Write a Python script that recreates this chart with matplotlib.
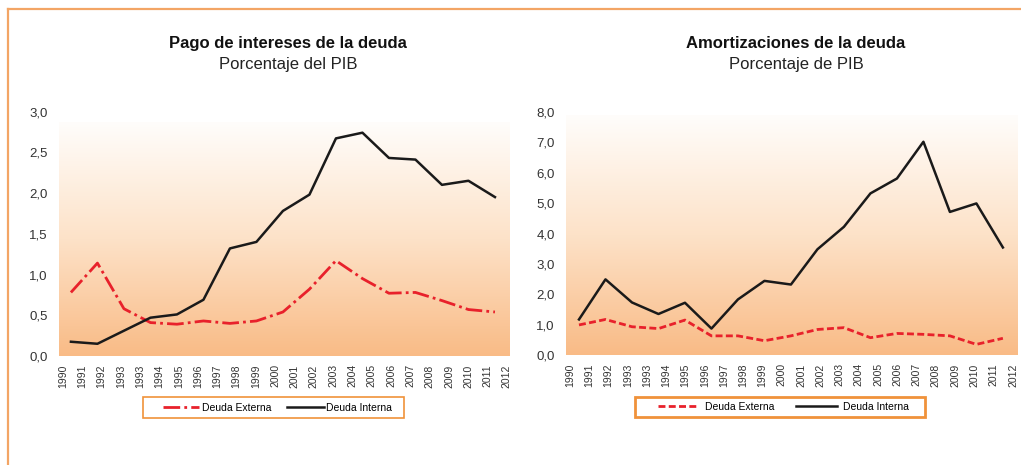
import numpy as np
import matplotlib
matplotlib.use("Agg")
import matplotlib.pyplot as plt
from matplotlib import font_manager
from matplotlib.colors import LinearSegmentedColormap
from matplotlib.lines import Line2D
from matplotlib.patches import Rectangle

# x-axis labels as printed on the original (note the repeated 1993)
year_labels = ["1990", "1991", "1992", "1993", "1993", "1994", "1995", "1996",
               "1997", "1998", "1999", "2000", "2001", "2002", "2003", "2004",
               "2005", "2006", "2007", "2008", "2009", "2010", "2011", "2012"]

# Pago de intereses de la deuda (% PIB)
int_externa = [0.78, 1.14, 0.58, 0.41, 0.39, 0.43, 0.40, 0.43, 0.54, 0.82,
               1.17, 0.95, 0.77, 0.78, 0.68, 0.57, 0.54]
int_interna = [0.175, 0.15, 0.31, 0.47, 0.51, 0.69, 1.32, 1.40, 1.78, 1.98,
               2.67, 2.74, 2.43, 2.41, 2.10, 2.15, 1.95]

# Amortizaciones de la deuda (% PIB)
amo_externa = [0.99, 1.17, 0.93, 0.87, 1.15, 0.63, 0.63, 0.47, 0.63, 0.84,
               0.90, 0.57, 0.71, 0.68, 0.63, 0.35, 0.55]
amo_interna = [1.17, 2.49, 1.73, 1.35, 1.72, 0.87, 1.83, 2.44, 2.32, 3.48,
               4.22, 5.32, 5.81, 7.02, 4.71, 4.99, 3.54]

available = {f.name for f in font_manager.fontManager.ttflist}
narrow = "Liberation Sans Narrow" if "Liberation Sans Narrow" in available else "Liberation Sans"
plt.rcParams["font.family"] = ["Liberation Sans", "DejaVu Sans"]

RED = "#e8212b"
BLACK = "#1a1a1a"
ORANGE = "#f0923a"
grad = LinearSegmentedColormap.from_list("peach", ["#f9bb86", "#fde2c8", "#fffdfb"])

W, H = 1021, 465
fig = plt.figure(figsize=(W / 100, H / 100), dpi=100)

# page frame
fig.add_artist(Line2D([8 / W, 1], [1 - 9 / H] * 2, color="#f3a565", lw=1.6))
fig.add_artist(Line2D([8 / W] * 2, [0, 1 - 9 / H], color="#f3a565", lw=1.6))


def panel(rect, ext, inte, ymax, ystep, grad_top, xlim, lab_span,
          title, subtitle, ext_style, leg_box, leg_center, leg_opts, leg_lw):
    ax = fig.add_axes(rect)
    n = len(ext)
    x = np.arange(n)
    ax.set_xlim(*xlim)
    ax.set_ylim(0, ymax)
    g = np.linspace(0, 1, 256).reshape(-1, 1)
    ax.imshow(g, cmap=grad, origin="lower", aspect="auto",
              extent=[xlim[0], xlim[1], 0, grad_top], zorder=0)
    ax.plot(x, ext, color=RED, lw=2.0, dashes=ext_style, zorder=3,
            label="Deuda Externa")
    ax.plot(x, inte, color=BLACK, lw=1.8, zorder=3, label="Deuda Interna")
    for s in ax.spines.values():
        s.set_visible(False)
    yt = np.arange(0, ymax + 0.001, ystep)
    ax.set_yticks(yt)
    ax.set_yticklabels([f"{v:.1f}".replace(".", ",") for v in yt],
                       fontsize=9.5, color="#333333")
    ax.set_xticks(np.linspace(lab_span[0], lab_span[1], len(year_labels)))
    ax.set_xticklabels(year_labels, rotation=90, fontsize=7.5, color="#333333")
    ax.tick_params(length=0, pad=6)
    ax.tick_params(axis="y", pad=8)

    cx = rect[0] + rect[2] / 2 + 0.004
    fig.text(cx, 1 - 43 / H, title, ha="center", va="center",
             fontsize=12, fontweight="bold", family=narrow, color="#111111")
    fig.text(cx, 1 - 65 / H, subtitle, ha="center", va="center",
             fontsize=12, family=narrow, color="#222222")

    # legend box drawn separately so the padding can be uneven like the original
    x0, x1, ytop, ybot = leg_box
    fig.add_artist(Rectangle((x0 / W, 1 - ybot / H), (x1 - x0) / W, (ybot - ytop) / H,
                             transform=fig.transFigure, facecolor="white",
                             edgecolor=ORANGE, lw=leg_lw))
    fig.legend(handles=ax.get_lines(), loc="center",
               bbox_to_anchor=(leg_center / W, 1 - (ytop + ybot) / 2 / H),
               ncol=2, fontsize=7.5, frameon=False, borderpad=0,
               **leg_opts)
    return ax


panel([59 / W, 1 - 356 / H, 450 / W, 244.5 / H],
      int_externa, int_interna, 3.0, 0.5, 2.86, (-0.45, 16.53), (-0.30, 16.45),
      "Pago de intereses de la deuda", "Porcentaje del PIB",
      (6, 1.5, 1, 1.5), (143, 404, 397, 418), 277.5,
      dict(handlelength=3.5, handletextpad=0.25, columnspacing=1.5), 1.2)

panel([566 / W, 1 - 355 / H, 452 / W, 243 / H],
      amo_externa, amo_interna, 8.0, 1.0, 7.9, (-0.49, 16.57), (-0.34, 16.38),
      "Amortizaciones de la deuda", "Porcentaje de PIB",
      (2.5, 1.2), (635, 925, 397, 417), 783.5,
      dict(handlelength=3.9, handletextpad=0.6, columnspacing=2.1), 2.0)

fig.savefig("out.png", dpi=100)
